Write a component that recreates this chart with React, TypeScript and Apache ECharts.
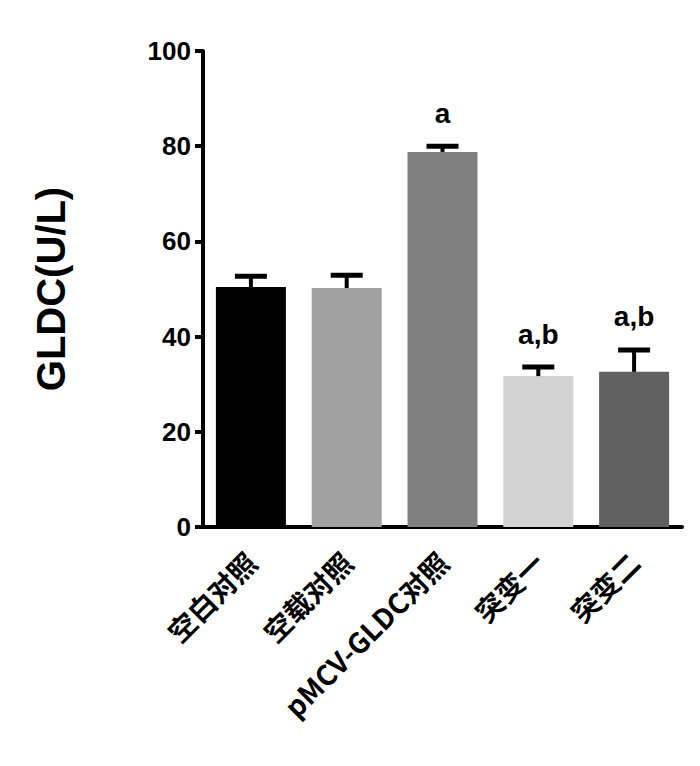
import React, { useEffect, useRef } from "react";
import * as echarts from "echarts";

const categories = ["空白对照", "空载对照", "pMCV-GLDC对照", "突变一", "突变二"];
const means = [50.4, 50.2, 78.8, 31.7, 32.6];
const errors = [2.3, 2.7, 1.2, 1.9, 4.6];
const sigLabels = ["", "", "a", "a,b", "a,b"];
const barColors = ["#000000", "#a0a0a0", "#808080", "#d3d3d3", "#606060"];
const yTicks = [0, 20, 40, 60, 80, 100];

export default function App() {
  const ref = useRef<HTMLDivElement>(null);
  useEffect(() => {
    document.body.style.margin = "0";
    if (!ref.current) return;
    const chart = echarts.init(ref.current, undefined, { renderer: "svg" });
    const option: any = {
      animation: false,
      backgroundColor: "#ffffff",
      grid: { left: 203, right: 18, top: 51, bottom: 239, containLabel: false },
      xAxis: {
        type: "category",
        data: categories,
        axisLine: { lineStyle: { color: "#000", width: 4 } },
        axisTick: { alignWithLabel: true, length: 8, lineStyle: { color: "#000", width: 4 } },
        axisLabel: {
          rotate: 45,
          margin: 30,
          interval: 0,
          color: "#000",
          fontSize: 28,
          fontWeight: "bold",
          fontFamily: "'Noto Sans CJK SC', 'DejaVu Serif', serif",
        },
      },
      yAxis: {
        type: "value",
        min: yTicks[0],
        max: yTicks[yTicks.length - 1],
        interval: 20,
        name: "GLDC(U/L)",
        nameLocation: "middle",
        nameRotate: 90,
        nameGap: 132,
        nameTextStyle: {
          color: "#000",
          fontSize: 40,
          fontWeight: "bold",
          fontFamily: "'Liberation Sans', Arial, sans-serif",
        },
        axisLine: { show: true, lineStyle: { color: "#000", width: 4 } },
        axisTick: { show: true, length: 8, lineStyle: { color: "#000", width: 4 } },
        splitLine: { show: false },
        axisLabel: {
          margin: 12,
          color: "#000",
          fontSize: 26,
          fontWeight: "bold",
          fontFamily: "'Liberation Sans', Arial, sans-serif",
        },
      },
      series: [
        {
          type: "bar",
          barWidth: 70,
          data: means.map((v, i) => ({ value: v, itemStyle: { color: barColors[i] } })),
          z: 2,
        },
        {
          type: "custom",
          z: 3,
          data: means.map((v, i) => [i, v, errors[i]]),
          renderItem: (params: any, api: any) => {
            const idx = api.value(0);
            const m = api.value(1);
            const e = api.value(2);
            const lab = sigLabels[idx];
            const base = api.coord([idx, m]);
            const top = api.coord([idx, m + e]);
            const half = 16;
            const children: any[] = [
              {
                type: "line",
                shape: { x1: base[0], y1: base[1], x2: top[0], y2: top[1] },
                style: { stroke: "#000", lineWidth: 4 },
              },
              {
                type: "line",
                shape: { x1: top[0] - half, y1: top[1], x2: top[0] + half, y2: top[1] },
                style: { stroke: "#000", lineWidth: 5 },
              },
            ];
            if (lab) {
              children.push({
                type: "text",
                style: {
                  text: lab,
                  x: top[0],
                  y: top[1] - 19,
                  align: "center",
                  verticalAlign: "bottom",
                  fontSize: 28,
                  fontWeight: "bold",
                  fontFamily: "'Liberation Sans', Arial, sans-serif",
                  fill: "#000",
                },
              });
            }
            return { type: "group", children };
          },
        },
      ],
    };
    chart.setOption(option);
    return () => chart.dispose();
  }, []);
  return <div ref={ref} style={{ width: 700, height: 766 }} />;
}
